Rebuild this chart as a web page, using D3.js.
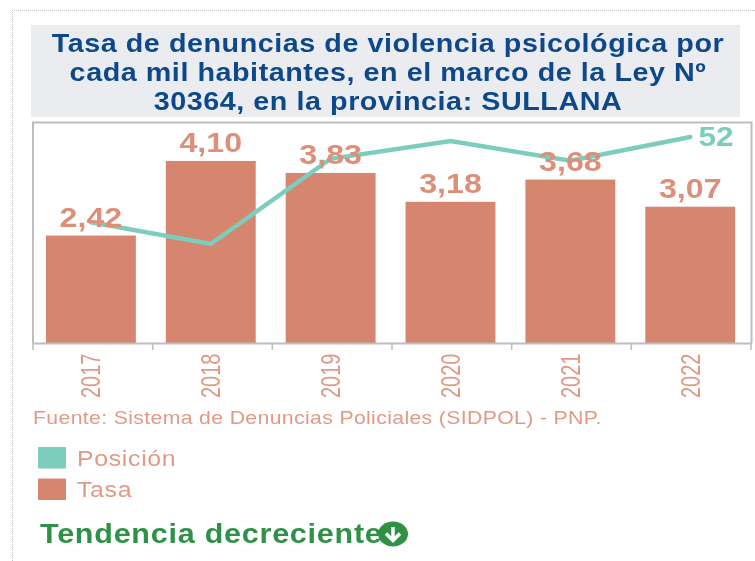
<!DOCTYPE html>
<html><head><meta charset="utf-8">
<script src="https://cdn.jsdelivr.net/npm/d3@7"></script>
<style>html,body{margin:0;padding:0;background:#fff}svg{display:block}text{font-family:"Liberation Sans",Arial,sans-serif}</style>
</head><body><svg id="c" width="755" height="561"></svg>
<script>
const years=["2017","2018","2019","2020","2021","2022"];
const tasa=[2.42,4.10,3.83,3.18,3.68,3.07];
const posicion=[30.5,25,46.5,51,46,52];
const titleLines=["Tasa de denuncias de violencia psicológica por","cada mil habitantes, en el marco de la Ley Nº","30364, en la provincia: SULLANA"];
const legendNames=["Posición","Tasa"];
const source="Fuente: Sistema de Denuncias Policiales (SIDPOL) - PNP.";
const trend="Tendencia decreciente";
const salmon="#d6866e",teal="#7ccdbc",labelSalmon="#e09a85",valueSalmon="#dc8f79",navy="#0f4a8a",green="#2e9146";
const svg=d3.select("#c");
const soft=svg.append("defs").append("filter").attr("id","soft");
soft.append("feGaussianBlur").attr("stdDeviation",0.35);
// text stretched sideways about its anchor
const at=(px,py,sx)=>`translate(${px},${py}) scale(${sx},1)`;
// outer dotted border
svg.append("path").attr("d","M12.5 561V10.5H755").attr("fill","none").attr("stroke","#c4c4c4").attr("stroke-dasharray","1 1");
// title
svg.append("rect").attr("x",31).attr("y",25).attr("width",709).attr("height",92).attr("fill","#ebecf0");
svg.append("g").attr("filter","url(#soft)").selectAll("text").data(titleLines).join("text")
 .attr("transform",(d,i)=>at(388,52+i*29,1.105)).attr("text-anchor","middle")
 .attr("font-size",26).attr("font-weight","bold").attr("letter-spacing",0.5).attr("fill",navy).text(d=>d);
// scales
const x=d3.scaleBand().domain(years).range([33,751]).paddingInner(0.25).paddingOuter(0.12).align(0.45);
const xStep=d3.scaleBand().domain(years).range([33,751]);
const y=d3.scaleLinear().domain([0,5]).range([343,121]);
const yP=d3.scaleLinear().domain([0,52]).range([343,137]);
const cx=i=>x(years[i])+x.bandwidth()/2;
// frame
svg.append("path").attr("d","M33 343V122.5H751.5V343").attr("fill","none").attr("stroke","#bdbdbd").attr("stroke-width",2);
// bars
svg.selectAll("rect.bar").data(tasa).join("rect").attr("class","bar")
 .attr("x",(d,i)=>x(years[i])).attr("width",x.bandwidth())
 .attr("y",d=>y(d)).attr("height",d=>y(0)-y(d)).attr("fill",salmon);
// axis
const ax=svg.append("g").attr("transform","translate(0,343)").call(
 d3.axisBottom(xStep).tickSize(0).tickPadding(0));
ax.select(".domain").attr("stroke","#bdbdbd").attr("stroke-width",2);
ax.selectAll("text").remove();
const tickPos=years.map(d=>xStep(d)).concat([751]);
svg.selectAll("line.t").data(tickPos).join("line").attr("class","t")
 .attr("x1",d=>d).attr("x2",d=>d).attr("y1",343).attr("y2",350).attr("stroke","#bdbdbd").attr("stroke-width",1.5);
svg.append("g").attr("filter","url(#soft)").selectAll("text").data(years).join("text")
 .attr("transform",(d,i)=>`translate(${cx(i)+9.5},398) scale(1.35,1) rotate(-90)`)
 .attr("font-size",20).attr("fill",labelSalmon).text(d=>d);
// line
const line=d3.line().x((d,i)=>cx(i)).y(d=>yP(d));
svg.append("path").datum(posicion).attr("d",line).attr("fill","none").attr("stroke",teal).attr("stroke-width",4.5).attr("stroke-linecap","round");
// labels
const lab=svg.append("g").attr("filter","url(#soft)");
lab.selectAll("text").data(tasa).join("text")
 .attr("transform",(d,i)=>at(cx(i),y(d)-9,1.15))
 .attr("text-anchor","middle").attr("font-size",28).attr("font-weight","bold").attr("fill",valueSalmon)
 .text(d=>d3.format(".2f")(d).replace(".",","));
lab.append("text").attr("transform",at(716,146,1.13)).attr("text-anchor","middle").attr("font-size",28).attr("font-weight","bold").attr("fill",teal).text(d3.format("d")(posicion[5]));
// source
svg.append("text").attr("filter","url(#soft)").attr("transform",at(33,424,1.18)).attr("font-size",18).attr("letter-spacing",0.3).attr("fill",labelSalmon).text(source);
// legend
const colors=[teal,salmon];
legendNames.forEach((n,i)=>{
 const yy=447+i*31.5;
 svg.append("rect").attr("x",38).attr("y",yy).attr("width",28).attr("height",21.5).attr("rx",1).attr("fill",colors[i]);
 svg.append("text").attr("filter","url(#soft)").attr("transform",at(77,yy+18.5,1.13)).attr("font-size",22).attr("letter-spacing",0.6).attr("fill",labelSalmon).text(n);
});
// trend
svg.append("text").attr("filter","url(#soft)").attr("transform",at(40,543,1.09)).attr("font-size",28).attr("font-weight","bold").attr("letter-spacing",0.7).attr("fill",green).text(trend);
svg.append("ellipse").attr("cx",393).attr("cy",534).attr("rx",15).attr("ry",12.5).attr("fill",green);
svg.append("path").attr("d","M393 527V540M386 533.5L393 540.5L400 533.5").attr("fill","none").attr("stroke","#fff").attr("stroke-width",3.5);
</script></body></html>
